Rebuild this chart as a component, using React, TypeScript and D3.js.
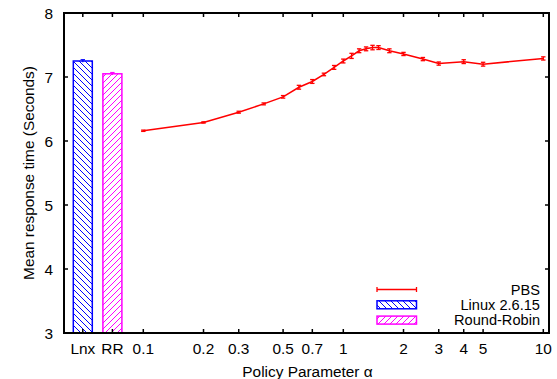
import React from "react";
import * as d3 from "d3";

const alphas = [0.1, 0.2, 0.3, 0.4, 0.5, 0.6, 0.7, 0.8, 0.9, 1, 1.1, 1.2, 1.3, 1.4, 1.5, 1.7, 2, 2.5, 3, 4, 5, 10];
const pbsMean = [6.16, 6.29, 6.45, 6.58, 6.69, 6.84, 6.93, 7.04, 7.15, 7.25, 7.33, 7.41, 7.44, 7.46, 7.46, 7.41, 7.36, 7.28, 7.21, 7.24, 7.2, 7.29];
const pbsErr = [0.01, 0.01, 0.015, 0.015, 0.02, 0.03, 0.03, 0.02, 0.03, 0.03, 0.04, 0.03, 0.03, 0.035, 0.03, 0.03, 0.025, 0.025, 0.025, 0.03, 0.03, 0.025];
const barCats = ["Lnx", "RR"];
const barMean = [7.25, 7.05];
const barErr = [0.02, 0.02];
const barColors = ["#0000ff", "#ff00ff"];
const xTicks = [0.1, 0.2, 0.3, 0.5, 0.7, 1, 2, 3, 4, 5, 10];
const yTicks = [3, 4, 5, 6, 7, 8];
const legendLabels = ["PBS", "Linux 2.6.15", "Round-Robin"];

const W = 557, H = 379;
const L = 64, R = 549, T = 13, B = 333;
const FONT = "Liberation Sans, Arial, sans-serif";
const FS = 15.4;
const LFS = 14.6;

export default function App() {
  const x = d3.scaleLog().domain([0.1, 10]).range([143.3, 543.3]);
  const xb = d3.scalePoint().domain(barCats).range([82.8, 112.4]);
  const y = d3.scaleLinear().domain([3, 8]).range([B, T]);
  const barW = 19;
  const line = d3.line<number>().x((_, i) => x(alphas[i])).y((d) => y(d));
  const tick = 4;
  const cap = 2.2;

  return (
    <svg width={W} height={H} style={{ position: "absolute", left: 0, top: 0 }} fontFamily={FONT}>
      <defs>
        <pattern id="hatchB" patternUnits="userSpaceOnUse" width="6" height="6">
          <path d="M-1,-1 L7,7 M-4,2 L2,8 M4,-4 L10,2" stroke="#0000ff" strokeWidth="1" />
        </pattern>
        <pattern id="hatchM" patternUnits="userSpaceOnUse" width="6" height="6">
          <path d="M-1,7 L7,-1 M-4,4 L2,-2 M4,10 L10,4" stroke="#ff00ff" strokeWidth="1" />
        </pattern>
      </defs>
      <rect width={W} height={H} fill="#fff" />
      {/* bars */}
      {barCats.map((c, i) => (
        <g key={c}>
          <rect x={xb(c)! - barW / 2} y={y(barMean[i])} width={barW} height={B - y(barMean[i])}
            fill={i === 0 ? "url(#hatchB)" : "url(#hatchM)"} stroke={barColors[i]} strokeWidth={1.5} />
          <line x1={xb(c)!} x2={xb(c)!} y1={y(barMean[i] - barErr[i])} y2={y(barMean[i] + barErr[i])} stroke={barColors[i]} strokeWidth={1.2} />
          <line x1={xb(c)! - cap} x2={xb(c)! + cap} y1={y(barMean[i] + barErr[i])} y2={y(barMean[i] + barErr[i])} stroke={barColors[i]} strokeWidth={1.2} />
        </g>
      ))}
      {/* PBS line */}
      <path d={line(pbsMean)!} fill="none" stroke="#ff0000" strokeWidth={1.5} />
      {alphas.map((a, i) => {
        const cx = x(a);
        const y1 = y(pbsMean[i] + pbsErr[i]);
        const y2 = y(pbsMean[i] - pbsErr[i]);
        return (
          <g key={a} stroke="#ff0000" strokeWidth={1.3}>
            <line x1={cx} x2={cx} y1={y1} y2={y2} />
            <line x1={cx - cap} x2={cx + cap} y1={y1} y2={y1} />
            <line x1={cx - cap} x2={cx + cap} y1={y2} y2={y2} />
          </g>
        );
      })}
      {/* ticks */}
      <g stroke="#000" strokeWidth={1.5}>
        {yTicks.map((t) => (
          <g key={t}>
            <line x1={L} x2={L + tick} y1={y(t)} y2={y(t)} />
            <line x1={R - tick} x2={R} y1={y(t)} y2={y(t)} />
          </g>
        ))}
        {xTicks.map((t) => (
          <g key={t}>
            <line x1={x(t)} x2={x(t)} y1={B} y2={B - tick} />
            <line x1={x(t)} x2={x(t)} y1={T} y2={T + tick} />
          </g>
        ))}
        {barCats.map((c) => (
          <g key={c}>
            <line x1={xb(c)!} x2={xb(c)!} y1={B} y2={B - tick} />
            <line x1={xb(c)!} x2={xb(c)!} y1={T} y2={T + tick} />
          </g>
        ))}
      </g>
      {/* frame */}
      <rect x={L} y={T} width={R - L} height={B - T} fill="none" stroke="#000" strokeWidth={2} />
      {/* tick labels */}
      <g fontSize={FS} fill="#000">
        {yTicks.map((t) => (
          <text key={t} x={53} y={y(t)} dy="0.36em" textAnchor="end">{t}</text>
        ))}
        {xTicks.map((t) => (
          <text key={t} x={x(t)} y={348} dy="0.36em" textAnchor="middle">{t}</text>
        ))}
        {barCats.map((c) => (
          <text key={c} x={xb(c)!} y={348} dy="0.36em" textAnchor="middle">{c}</text>
        ))}
        <text x={(L + R) / 2 + 1} y={371} dy="0.36em" textAnchor="middle">Policy Parameter α</text>
        <text transform={`translate(28,${(T + B) / 2}) rotate(-90)`} dy="0.36em" textAnchor="middle">Mean response time (Seconds)</text>
      </g>
      {/* legend */}
      <g fontSize={LFS}>
        {legendLabels.map((lab, i) => {
          const ly = 289.5 + i * 15.3;
          return (
            <g key={lab}>
              <text x={540} y={ly} dy="0.36em" textAnchor="end">{lab}</text>
              {i === 0 ? (
                <g stroke="#ff0000" strokeWidth={1.3}>
                  <line x1={377} x2={416.5} y1={ly} y2={ly} />
                  <line x1={377} x2={377} y1={ly - 2.5} y2={ly + 2.5} />
                  <line x1={416.5} x2={416.5} y1={ly - 2.5} y2={ly + 2.5} />
                </g>
              ) : (
                <rect x={377} y={ly - 4} width={39.5} height={8}
                  fill={i === 1 ? "url(#hatchB)" : "url(#hatchM)"} stroke={barColors[i - 1]} strokeWidth={1.5} />
              )}
            </g>
          );
        })}
      </g>
    </svg>
  );
}
